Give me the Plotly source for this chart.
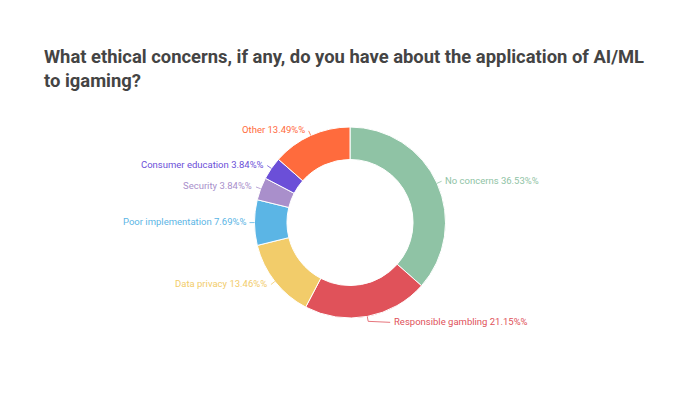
import math
import plotly.graph_objects as go

categories = ["No concerns", "Responsible gambling", "Data privacy", "Poor implementation",
              "Security", "Consumer education", "Other"]
values = [36.53, 21.15, 13.46, 7.69, 3.84, 3.84, 13.49]
colors = ["#8fc3a5", "#e0525a", "#f2cc6a", "#5bb5e5", "#a98fcb", "#6b4fd8", "#ff6b3d"]
title_text = "What ethical concerns, if any, do you have about the application of AI/ML<br>to igaming?"

W, H = 700, 396
CX, CY, R = 350, 222.5, 95.5
LEADER = 5
# extra horizontal leader length used where the original layout pushed a label aside
EXTRA = {"Responsible gambling": 22}

def px(x):
    return x / W

def py(y):
    return 1 - y / H

fig = go.Figure(go.Pie(
    labels=categories, values=values, sort=False, direction="clockwise", rotation=0,
    hole=0.66, marker=dict(colors=colors, line=dict(color="white", width=1)),
    textinfo="none", hoverinfo="label+percent",
    domain=dict(x=[px(CX - R), px(CX + R)], y=[py(CY + R), py(CY - R)]),
))

annotations = [dict(text="<b>" + title_text + "</b>", x=px(42), y=py(44), xref="paper", yref="paper",
                    xanchor="left", yanchor="top", align="left", showarrow=False,
                    font=dict(family="Roboto", size=18.4, color="#444444"))]
shapes = []
total = sum(values)
cum = 0
for name, v, c in zip(categories, values, colors):
    mid = (cum + v / 2) / total * 2 * math.pi
    cum += v
    s, co = math.sin(mid), -math.cos(mid)
    side = 1 if s >= 0 else -1
    x1, y1 = CX + R * s, CY + R * co
    x2, y2 = CX + (R + LEADER) * s, CY + (R + LEADER) * co
    extra = EXTRA.get(name, 0)
    x3 = x2 + side * extra
    y3 = y2 + (1 if extra else 0)
    shapes.append(dict(type="path", xref="paper", yref="paper",
                       path=f"M {px(x1)} {py(y1)} L {px(x2)} {py(y2)} L {px(x3)} {py(y3)}",
                       line=dict(color=c, width=0.8)))
    annotations.append(dict(text=f"{name} {v:.2f}%%", x=px(x3 + side * 1.5), y=py(y3 - 1),
                            xref="paper", yref="paper",
                            xanchor="left" if side > 0 else "right", yanchor="middle",
                            showarrow=False, font=dict(family="Roboto", size=9.5, color=c)))

fig.update_layout(width=W, height=H, margin=dict(l=0, r=0, t=0, b=0),
                  paper_bgcolor="white", plot_bgcolor="white", showlegend=False,
                  annotations=annotations, shapes=shapes)
fig.write_html("out.html", config={"displayModeBar": False},
               post_script="document.body.style.margin='0';")
